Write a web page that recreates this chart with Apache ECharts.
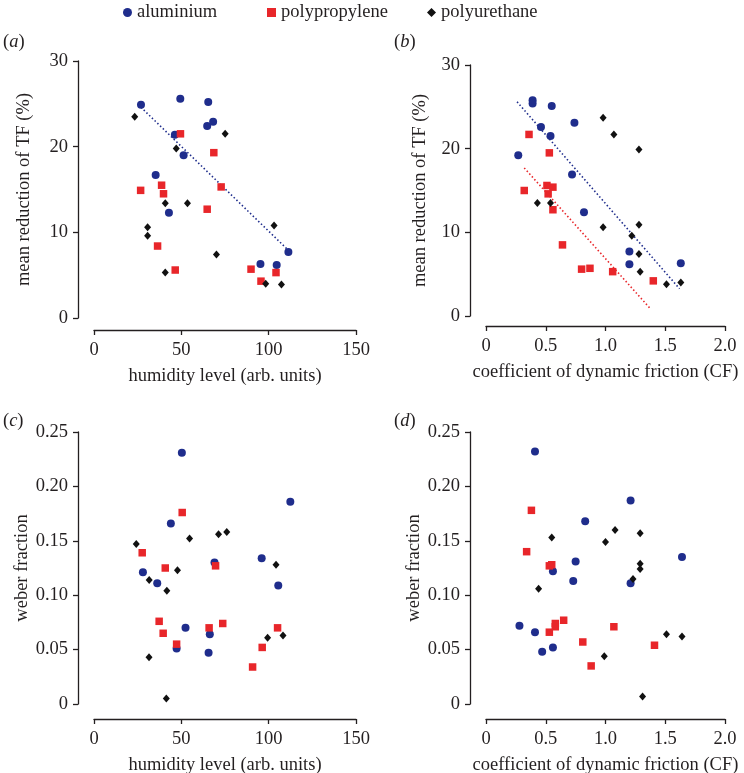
<!DOCTYPE html>
<html><head><meta charset="utf-8">
<script src="https://cdn.jsdelivr.net/npm/echarts@6/dist/echarts.min.js"></script>
<style>html,body{margin:0;padding:0;background:#fff}#c{width:744px;height:773px}</style>
</head><body><div id="c"></div>
<script>
// ---------- data ----------
const materials = ['aluminium', 'polypropylene', 'polyurethane'];

// panel (a): humidity level vs mean reduction of TF (%)
const aAluminium = [[26.9,24.9],[49.4,25.6],[65.4,25.2],[64.8,22.4],[68.2,22.9],[46.3,21.4],[51.3,19.0],[35.3,16.7],[42.9,12.3],[111.3,7.7],[95.3,6.3],[104.6,6.2]];
const aPolypropylene = [[49.5,21.5],[68.6,19.3],[72.8,15.3],[26.7,14.9],[38.7,15.5],[39.8,14.5],[64.8,12.7],[36.4,8.4],[46.5,5.6],[89.9,5.7],[95.6,4.3],[104.2,5.3]];
const aPolyurethane = [[23.3,23.5],[75.1,21.5],[47.1,19.8],[40.8,13.4],[53.5,13.4],[30.7,10.6],[30.7,9.6],[103.1,10.8],[70.1,7.4],[40.8,5.3],[98.3,4.0],[107.3,3.9]];
const aTrendAluminium = [[26.9,24.6],[111.3,7.9]];

// panel (b): coefficient of dynamic friction vs mean reduction of TF (%)
const bAluminium = [[0.39,25.8],[0.39,25.4],[0.55,25.1],[0.46,22.6],[0.74,23.1],[0.54,21.5],[0.27,19.2],[0.72,16.9],[0.82,12.4],[1.20,7.7],[1.20,6.2],[1.63,6.3]];
const bPolypropylene = [[0.36,21.7],[0.53,19.5],[0.32,15.0],[0.51,15.6],[0.56,15.4],[0.52,14.6],[0.56,12.7],[0.64,8.5],[0.80,5.6],[0.87,5.7],[1.06,5.3],[1.40,4.2]];
const bPolyurethane = [[0.98,23.7],[1.07,21.7],[1.28,19.9],[0.43,13.5],[0.54,13.5],[0.98,10.6],[1.28,10.9],[1.22,9.6],[1.28,7.4],[1.29,5.3],[1.51,3.8],[1.63,4.0]];
const bTrendAluminium = [[0.26,25.6],[1.62,3.25]];
const bTrendPolypropylene = [[0.32,17.7],[1.38,0.8]];

// panel (c): humidity level vs weber fraction
const cAluminium = [[50.3,0.231],[112.4,0.186],[44.0,0.166],[96.0,0.134],[69.0,0.130],[28.0,0.121],[36.2,0.111],[105.5,0.109],[52.4,0.070],[66.3,0.064],[47.3,0.051],[65.6,0.047]];
const cPolypropylene = [[50.5,0.176],[27.6,0.139],[40.8,0.125],[69.6,0.127],[37.3,0.076],[39.6,0.065],[65.9,0.070],[73.7,0.074],[105.1,0.070],[47.3,0.055],[96.3,0.052],[90.8,0.034]];
const cPolyurethane = [[24.2,0.147],[54.7,0.152],[71.3,0.156],[76.0,0.158],[104.2,0.128],[47.8,0.123],[31.6,0.114],[41.7,0.104],[99.4,0.061],[108.2,0.063],[31.5,0.043],[41.4,0.005]];

// panel (d): coefficient of dynamic friction vs weber fraction
const dAluminium = [[0.41,0.232],[1.21,0.187],[0.83,0.168],[1.64,0.135],[0.75,0.131],[0.56,0.122],[0.73,0.113],[1.21,0.111],[0.28,0.072],[0.41,0.066],[0.47,0.048],[0.56,0.052]];
const dPolypropylene = [[0.38,0.178],[0.34,0.140],[0.53,0.127],[0.55,0.128],[0.58,0.074],[0.58,0.071],[0.65,0.077],[1.07,0.071],[0.53,0.066],[0.81,0.057],[0.88,0.035],[1.41,0.054]];
const dPolyurethane = [[0.55,0.153],[1.08,0.160],[1.00,0.149],[1.29,0.157],[1.29,0.129],[1.29,0.124],[1.23,0.115],[0.44,0.106],[1.51,0.064],[1.64,0.062],[0.99,0.044],[1.31,0.007]];

// axis texts
const humidityName = 'humidity level (arb. units)';
const frictionName = 'coefficient of dynamic friction (CF)';
const tfName = 'mean reduction of TF (%)';
const weberName = 'weber fraction';
const panelLetters = ['a', 'b', 'c', 'd'];

// ---------- styling ----------
const FONT = "'Liberation Serif', 'Times New Roman', serif";
const FS = 18.5;
const INK = '#231f20';
const BLUE = '#1f2d8c';
const RED = '#e8262a';
const BLACK = '#111111';

const grids = [
  { left: 94, top: 61, width: 262, height: 257 },
  { left: 486, top: 65, width: 239, height: 251 },
  { left: 94, top: 432, width: 262, height: 272 },
  { left: 486, top: 432, width: 239, height: 272 }
].map(g => Object.assign({ outerBoundsMode: 'none', containLabel: false }, g));

const fmt0 = d => v => (v === 0 ? '0' : v.toFixed(d));

function xAxis(gi, max, interval, name, dec, offset) {
  return {
    type: 'value', gridIndex: gi, min: 0, max: max, interval: interval,
    offset: offset,
    name: name, nameLocation: 'middle', nameGap: 37,
    nameTextStyle: { fontFamily: FONT, fontSize: FS, color: INK },
    axisLine: { show: true, onZero: false, lineStyle: { color: INK, width: 1.3 } },
    axisTick: { show: true, inside: false, length: 5, lineStyle: { color: INK, width: 1.3 } },
    axisLabel: { fontFamily: FONT, fontSize: FS, color: INK, margin: 11, formatter: fmt0(dec), hideOverlap: false },
    splitLine: { show: false }
  };
}
function yAxis(gi, max, interval, name, dec, nameGap) {
  return {
    type: 'value', gridIndex: gi, min: 0, max: max, interval: interval,
    offset: 16,
    name: name, nameLocation: 'middle', nameGap: nameGap,
    nameTextStyle: { fontFamily: FONT, fontSize: FS, color: INK },
    axisLine: { show: true, onZero: false, lineStyle: { color: INK, width: 1.3 } },
    axisTick: { show: true, inside: false, length: 5, lineStyle: { color: INK, width: 1.3 } },
    axisLabel: { fontFamily: FONT, fontSize: FS, color: INK, margin: 10, formatter: fmt0(dec), hideOverlap: false },
    splitLine: { show: false }
  };
}

const symbolStyle = {
  aluminium: { symbol: 'circle', symbolSize: 8, color: BLUE },
  polypropylene: { symbol: 'rect', symbolSize: 7.5, color: RED },
  polyurethane: { symbol: 'diamond', symbolSize: [7, 8], color: BLACK }
};

function scatter(name, gi, data) {
  const s = symbolStyle[name];
  return {
    type: 'scatter', name: name, xAxisIndex: gi, yAxisIndex: gi, data: data,
    symbol: s.symbol, symbolSize: s.symbolSize,
    itemStyle: { color: s.color, opacity: 1 },
    emphasis: { disabled: true }, z: 3
  };
}
function trend(gi, data, color) {
  return {
    type: 'line', name: 'trend', xAxisIndex: gi, yAxisIndex: gi, data: data,
    showSymbol: false, symbol: 'none', silent: true,
    lineStyle: { color: color, width: 1.6, type: [1.5, 2.3] }, z: 2
  };
}

const series = [
  scatter('aluminium', 0, aAluminium), scatter('polypropylene', 0, aPolypropylene), scatter('polyurethane', 0, aPolyurethane),
  trend(0, aTrendAluminium, BLUE),
  scatter('aluminium', 1, bAluminium), scatter('polypropylene', 1, bPolypropylene), scatter('polyurethane', 1, bPolyurethane),
  trend(1, bTrendAluminium, BLUE), trend(1, bTrendPolypropylene, RED),
  scatter('aluminium', 2, cAluminium), scatter('polypropylene', 2, cPolypropylene), scatter('polyurethane', 2, cPolyurethane),
  scatter('aluminium', 3, dAluminium), scatter('polypropylene', 3, dPolypropylene), scatter('polyurethane', 3, dPolyurethane)
];

const legendLefts = [123, 267, 427];
const legends = materials.map((m, i) => ({
  data: [m], left: legendLefts[i], top: 3, orient: 'horizontal', padding: 0,
  itemWidth: 9, itemHeight: 9, itemGap: 0, selectedMode: false,
  textStyle: { fontFamily: FONT, fontSize: FS, color: INK }
}));

const labelPos = [[3, 33], [394, 33], [3, 412], [394, 412]];
const graphics = panelLetters.map((l, i) => ({
  type: 'text', left: labelPos[i][0], top: labelPos[i][1], silent: true,
  style: {
    text: '({i|' + l + '})',
    fontFamily: FONT, fontSize: FS, fill: INK,
    rich: { i: { fontStyle: 'italic', fontFamily: FONT, fontSize: FS, fill: INK, color: INK } }
  }
}));

const option = {
  backgroundColor: '#ffffff',
  animation: false,
  legend: legends,
  grid: grids,
  xAxis: [
    xAxis(0, 150, 50, humidityName, 0, 12),
    xAxis(1, 2.0, 0.5, frictionName, 1, 10),
    xAxis(2, 150, 50, humidityName, 0, 15),
    xAxis(3, 2.0, 0.5, frictionName, 1, 15)
  ],
  yAxis: [
    yAxis(0, 30, 10, tfName, 0, 44),
    yAxis(1, 30, 10, tfName, 0, 40),
    yAxis(2, 0.25, 0.05, weberName, 2, 44),
    yAxis(3, 0.25, 0.05, weberName, 2, 45)
  ],
  series: series,
  graphic: graphics
};

const chart = echarts.init(document.getElementById('c'), null, { renderer: 'canvas' });
chart.setOption(option);
</script></body></html>
